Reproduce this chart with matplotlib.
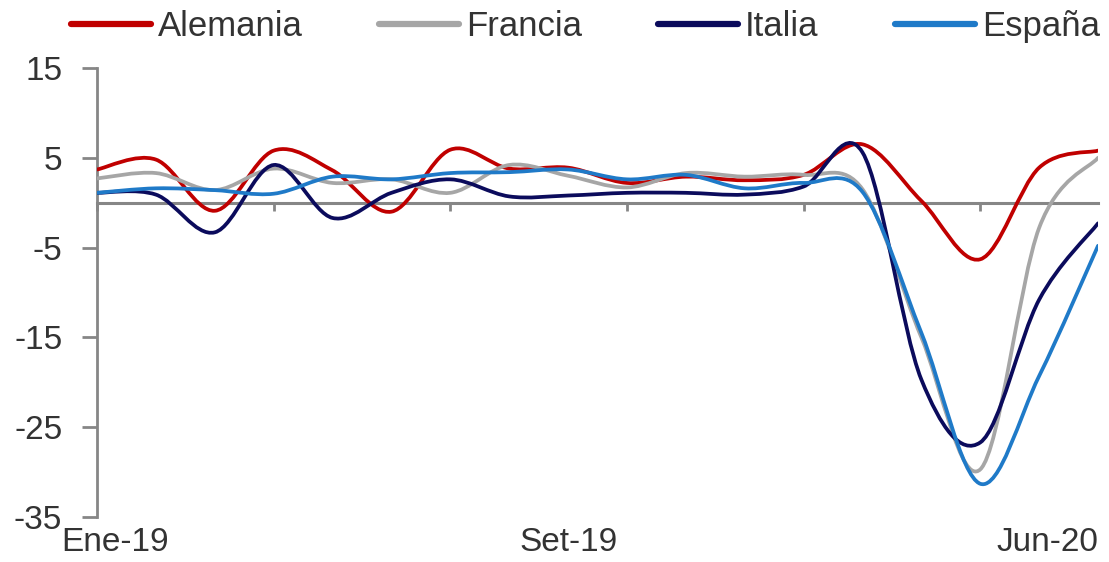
import numpy as np
import matplotlib
matplotlib.use("Agg")
import matplotlib.pyplot as plt
from matplotlib.path import Path
from matplotlib.patches import PathPatch
from matplotlib.lines import Line2D
from matplotlib.transforms import ScaledTranslation

plt.rcParams["font.family"] = ["Liberation Sans", "DejaVu Sans"]
plt.rcParams["axes.unicode_minus"] = False

# monthly values, Ene-19 .. Jun-20
meses = ["Ene-19", "Feb-19", "Mar-19", "Abr-19", "May-19", "Jun-19", "Jul-19", "Ago-19", "Set-19",
         "Oct-19", "Nov-19", "Dic-19", "Ene-20", "Feb-20", "Mar-20", "Abr-20", "May-20", "Jun-20"]
alemania = [3.7, 4.8, -0.9, 5.8, 3.6, -1.0, 5.9, 3.8, 3.9, 2.2, 2.9, 2.5, 3.1, 6.5, 0.2, -6.3, 3.9, 5.8]
francia = [2.7, 3.3, 1.4, 3.8, 2.2, 2.6, 1.1, 4.2, 3.0, 1.7, 3.3, 2.9, 3.1, 1.5, -15.0, -29.7, -2.8, 5.0]
italia = [1.1, 0.9, -3.3, 4.2, -1.7, 1.1, 2.6, 0.7, 0.8, 1.1, 1.1, 0.9, 1.8, 5.6, -19.7, -26.7, -10.8, -2.3]
espana = [1.1, 1.6, 1.4, 1.0, 2.9, 2.6, 3.3, 3.4, 3.7, 2.6, 3.1, 1.6, 2.2, 1.2, -14.5, -31.3, -19.3, -4.8]

series = [("Alemania", alemania, "#C00000"),
          ("Francia", francia, "#A6A6A6"),
          ("Italia", italia, "#0B0B5C"),
          ("España", espana, "#1F7AC8")]

label_pos = [0, 8, 17]
yticks = [15, 5, -5, -15, -25, -35]
grey = "#868686"
txt = "#333333"


def smooth_path(x, y):
    # excel-like smoothed line: catmull-rom segments as cubic beziers
    pts = np.column_stack([x, y])
    n = len(pts)
    verts = [pts[0]]
    codes = [Path.MOVETO]
    for i in range(n - 1):
        p0 = pts[max(i - 1, 0)]
        p1 = pts[i]
        p2 = pts[i + 1]
        p3 = pts[min(i + 2, n - 1)]
        verts += [p1 + (p2 - p0) / 6, p2 - (p3 - p1) / 6, p2]
        codes += [Path.CURVE4] * 3
    return Path(verts, codes)


fig = plt.figure(figsize=(11.09, 5.62), dpi=100)
ax = fig.add_axes([0.0875, 0.0801, 0.9026, 0.7989])

x = np.arange(len(meses))
handles = []
for name, vals, col in series:
    ax.add_patch(PathPatch(smooth_path(x, vals), facecolor="none", edgecolor=col,
                           lw=2.7, zorder=3, capstyle="round"))
    handles.append(Line2D([], [], color=col, lw=4.5, solid_capstyle="round"))

ax.set_xlim(0, len(meses) - 1)
ax.set_ylim(-35, 15)

for s in ["top", "right"]:
    ax.spines[s].set_visible(False)
ax.spines["bottom"].set_position(("data", 0))
ax.spines["bottom"].set_color(grey)
ax.spines["bottom"].set_linewidth(2.2)
ax.spines["left"].set_color(grey)
ax.spines["left"].set_linewidth(2.0)

ax.set_xticks(range(0, len(meses), 3))
ax.set_xticklabels([])
ax.tick_params(axis="x", length=6, width=2, color=grey)
ax.set_yticks(yticks)
ax.tick_params(axis="y", length=11, width=2, color=grey, pad=14,
               labelsize=24, labelcolor=txt)

sec = ax.secondary_xaxis(0.0)
sec.set_xticks(label_pos, labels=[meses[i] for i in label_pos])
sec.tick_params(length=0, pad=7, labelsize=24, labelcolor=txt)
sec.spines["bottom"].set_visible(False)
labs = sec.get_xticklabels()
labs[-1].set_horizontalalignment("right")
# nudge first label clear of the -35 tick label
labs[0].set_transform(labs[0].get_transform() + ScaledTranslation(0.18, 0, fig.dpi_scale_trans))

fig.legend(handles, [s[0] for s in series], loc="center", bbox_to_anchor=(0.528, 0.952),
           ncol=4, frameon=False, handlelength=2.3, handletextpad=0.2,
           columnspacing=2.2, fontsize=25, labelcolor=txt)

fig.savefig("out.png", dpi=100)
